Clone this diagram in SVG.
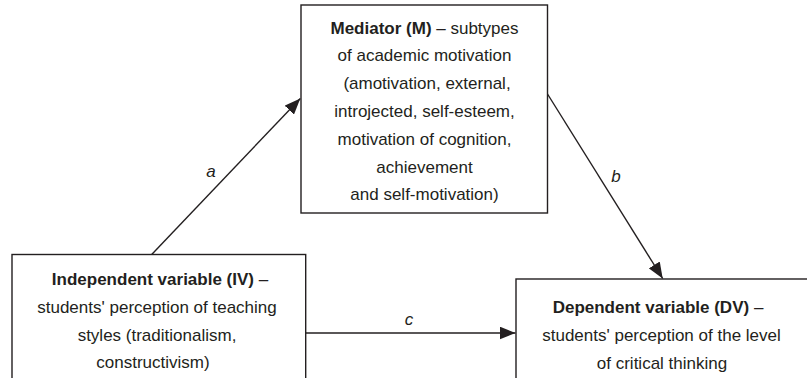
<svg xmlns="http://www.w3.org/2000/svg" width="807" height="378" viewBox="0 0 807 378">
<style>
.box{fill:#fff;stroke:#231f20;stroke-width:1.4}
.t{font-family:"Liberation Sans",Arial,sans-serif;font-size:17px;fill:#231f20;text-anchor:middle}
.b{font-weight:bold}
.lbl{font-family:"Liberation Sans",Arial,sans-serif;font-size:17px;font-style:italic;fill:#231f20;text-anchor:middle}
.conn{stroke:#231f20;stroke-width:1.4;fill:none;marker-end:url(#ah)}
</style>
<defs>
<marker id="ah" markerUnits="userSpaceOnUse" markerWidth="17" markerHeight="13" refX="16" refY="6.5" orient="auto">
<path d="M0,0 L16,6.5 L0,13 z" fill="#231f20"/>
</marker>
</defs>
<rect width="807" height="378" fill="#fff"/>
<g id="connectors">
<line class="conn" x1="151.7" y1="254.5" x2="300.3" y2="98.5"/>
<text class="lbl" x="211" y="177">a</text>
<line class="conn" x1="547.5" y1="94" x2="662.7" y2="278.5"/>
<text class="lbl" x="616" y="182">b</text>
<line class="conn" x1="305.7" y1="333" x2="515.5" y2="333"/>
<text class="lbl" x="409" y="325">c</text>
</g>
<g id="mediator">
<rect class="box" x="301" y="5" width="246.5" height="208"/>
<text class="t" x="424.5" y="33.5"><tspan class="b">Mediator (M)</tspan> – subtypes</text>
<text class="t" x="424.5" y="61.3">of academic motivation</text>
<text class="t" x="427" y="89.1">(amotivation, external,</text>
<text class="t" x="424.5" y="116.9">introjected, self-esteem,</text>
<text class="t" x="424.5" y="144.7">motivation of cognition,</text>
<text class="t" x="424.5" y="172.5">achievement</text>
<text class="t" x="424.5" y="200.3">and self-motivation)</text>
</g>
<g id="iv">
<rect class="box" x="12" y="254.5" width="293.7" height="140"/>
<text class="t" x="160" y="285"><tspan class="b">Independent variable (IV)</tspan> –</text>
<text class="t" x="157" y="312.8">students' perception of teaching</text>
<text class="t" x="157" y="340.6">styles (traditionalism,</text>
<text class="t" x="153" y="368.4">constructivism)</text>
</g>
<g id="dv">
<rect class="box" x="516" y="279" width="300" height="120"/>
<text class="t" x="658" y="313"><tspan class="b">Dependent variable (DV)</tspan> –</text>
<text class="t" x="661.5" y="340.8">students' perception of the level</text>
<text class="t" x="662" y="368.6">of critical thinking</text>
</g>
</svg>
